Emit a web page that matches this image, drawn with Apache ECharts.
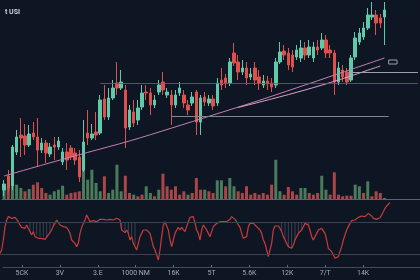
<!DOCTYPE html>
<html><head><meta charset="utf-8">
<style>html,body{margin:0;padding:0;background:#0e1624;}#c{width:420px;height:280px;}</style>
<script src="https://cdn.jsdelivr.net/npm/echarts@6/dist/echarts.min.js"></script>
</head><body><div id="c"></div>
<script>
// ---- data ----
const titleText = 't USI';
const xLabels = ['5CK','3V','3.E','1000 NM','16K','5T','5.6K','12K','7/T','14K'];
const openP  = [10,24,14,48,65,64,55,67,63,50,57,46,55,53,38,48,52,47,43,30,67,62,68,67,101,83,102,117,112,110,73,88,80,93,108,107,95,108,118,105,105,95,107,105,95,97,108,78,103,97,101,97,120,122,117,147,138,128,132,123,132,123,115,119,117,115,138,149,147,145,143,142,152,145,142,153,152,160,150,147,118,130,128,120,143,158,163,172,183,185,182,183];
const closeP = [16,12,53,63,62,55,66,63,50,57,47,53,53,59,48,40,43,40,23,58,62,66,65,100,83,102,112,112,118,72,90,77,92,107,107,95,100,115,110,108,95,105,112,97,90,103,78,102,98,101,94,117,115,117,138,137,128,132,122,126,120,117,119,116,113,138,148,145,135,133,150,152,145,153,153,150,160,147,147,118,132,123,118,142,162,167,172,185,185,177,177,190];
const lowP   = [4,8,10,45,43,45,53,60,33,47,37,43,40,50,35,30,40,35,18,28,55,60,60,65,80,80,100,105,110,52,70,73,75,90,100,85,92,105,105,102,75,92,104,92,85,94,65,65,94,94,90,94,110,112,114,134,120,125,115,120,115,110,112,110,108,112,136,140,130,128,140,138,140,142,138,145,150,142,142,105,115,118,115,118,140,155,160,170,180,165,172,155];
const highP  = [20,30,55,70,82,76,75,78,82,62,60,57,63,63,52,57,55,52,50,80,90,76,88,105,115,112,120,138,130,115,95,100,100,115,115,112,105,120,128,112,110,110,118,110,100,108,110,105,108,105,105,122,132,126,142,157,145,140,138,132,138,130,125,124,122,142,158,155,152,150,155,160,158,160,158,160,167,165,155,150,138,135,132,145,168,172,178,192,198,190,186,198];
const volume = [930,1200,1270,1430,1100,770,1000,1430,1670,1100,600,430,770,930,1330,430,600,670,770,3100,1930,2930,1600,770,2270,600,930,3430,770,2330,600,430,270,430,1270,600,270,930,2530,1270,930,1270,430,770,430,600,2100,930,930,770,600,1870,1870,1270,2100,1270,770,600,1270,430,600,430,600,430,1430,3930,770,430,1200,770,430,1100,1100,600,430,600,2330,930,430,2670,430,270,330,330,1430,1270,600,1770,270,770,600,100];
const volUp  = [1,0,1,1,1,0,1,0,0,0,0,1,1,1,1,0,0,0,0,1,1,1,1,1,0,1,1,1,1,0,0,1,0,0,1,1,0,1,0,0,0,0,0,0,1,0,0,0,1,0,0,1,1,0,1,1,0,0,0,0,0,0,0,0,0,1,1,0,0,0,0,1,1,0,0,0,1,1,0,0,0,0,0,0,1,1,0,1,0,0,0,1];
const ma1Points = [[0,24],[10,36],[20,47.6],[30,59],[40,71.8],[50,85],[60,98.2],[70,112.2],[80,126.3],[91,142]];
const ma2Points = [[56,92.5],[64,101],[72,110],[80,120],[90,134]];
const levelPrice = [117, 84, 128];
const levelFrom  = [23, 40, 83];
const levelTo    = [99, 92, 99];
const rsi = [
30.8,35.0,47.5,64.2,72.5,76.7,77.5,74.6,72.5,75.8,
74.6,70.4,66.3,63.3,65.0,62.1,66.3,64.2,57.9,53.8,
57.9,51.7,53.8,49.6,51.7,49.6,50.8,48.3,50.8,53.8,
55.8,60.0,65.0,68.3,72.5,70.4,66.3,68.3,64.2,66.3,
63.3,60.0,55.8,47.5,45.4,43.3,39.2,43.3,55.8,63.3,
68.3,72.5,78.8,74.6,70.4,68.3,71.7,73.3,70.4,72.5,
73.3,74.6,73.3,71.7,72.5,73.8,73.3,71.7,72.5,73.3,
74.6,76.7,72.5,60.0,57.9,56.7,60.0,55.8,47.5,51.7,
43.3,41.3,35.0,43.3,51.7,55.8,60.0,62.1,60.0,57.9,
55.8,47.5,39.2,35.0,28.8,22.5,35.0,51.7,66.3,70.4,
68.3,60.0,47.5,39.2,47.5,55.8,60.0,63.3,60.0,63.3,
60.8,57.9,64.2,70.4,75.8,77.5,76.7,68.3,60.0,55.8,
47.5,60.0,66.3,64.2,60.0,55.8,
51.7,57.9,64.2,66.3,68.3,69.2,70.4,68.3,70.4,68.3,
70.4,69.2,73.3,76.7,74.6,73.3,70.4,66.3,63.3,55.8,
49.6,47.5,51.7,64.2,68.3,70.4,68.3,66.3,64.2,63.3,
60.0,55.8,47.5,43.3,35.0,26.7,24.6,43.3,60.0,65.0,
65.0,65.0,62.1,57.9,51.7,47.5,43.3,39.2,39.2,37.1,
41.3,47.5,51.7,55.8,57.9,60.0,62.1,68.3,70.4,66.3,
60.0,51.7,47.5,49.6,55.8,60.0,62.1,62.1,60.8,55.8,
47.5,37.1,35.0,32.9,28.8,24.6,22.5,26.7,32.9,39.2,
47.5,53.8,60.0,64.2,68.3,71.7,73.3,72.5,74.6,75.8,
76.7,77.5,75.8,76.7,78.8,80.8,80.0,77.5,74.6,75.8,
73.3,74.6,75.4,78.8,82.9,87.1,90.0,92.1,94.2];
const rsiLevels = [70, 30];
const hatchRanges = [[18,32],[73,82],[169,186]];

// ---- build ----
const N_CAT = 100, N_RSI = 253;
const cats = Array.from({length:N_CAT}, (_,i)=>'D'+(i+1));
const rsiCats = Array.from({length:N_RSI}, (_,i)=>'R'+(i+1));
const candles = openP.map((o,i)=>[o, closeP[i], lowP[i], highP[i]]);
function sparse(points, n){ const a = new Array(n).fill(null); points.forEach(p=>{a[p[0]]=p[1];}); return a; }
const ma1 = sparse(ma1Points, openP.length);
const ma2 = sparse(ma2Points, openP.length);
const rsiData = rsi.concat(new Array(N_RSI - rsi.length).fill(null));
const hatchBase = new Array(N_RSI).fill(null), hatchVal = new Array(N_RSI).fill(null);
hatchRanges.forEach(([a,b])=>{ for(let k=a;k<=b;k+=2){ if(rsi[k]<rsiLevels[0]){ hatchBase[k]=rsi[k]; hatchVal[k]=rsiLevels[0]-rsi[k]; } } });
const GREEN='#5fc9a9', RED='#df4f4c';
const levelColors = ['rgba(175,70,70,0.8)','#7f8793','#9aa1ab'];
const volData = volume.map((v,i)=>({value:v, itemStyle:{color: volUp[i] ? '#4a7b5b' : '#a94646'}}));

const chart = echarts.init(document.getElementById('c'), null, {renderer:'canvas'});
chart.setOption({
  backgroundColor:'#0e1624',
  animation:false,
  title:{text:titleText, left:0, top:4, textStyle:{color:'#cfd4dc', fontSize:7, fontWeight:'bold', fontFamily:'Roboto'}},
  grid:[
    {left:2, right:0, top:0, height:200},
    {left:2, right:0, top:139, height:60},
    {left:0, right:0, top:198, height:80},
    {left:3, right:0, top:266, height:1}
  ],
  xAxis:[
    {type:'category', gridIndex:0, data:cats, show:false},
    {type:'category', gridIndex:1, data:cats, axisLine:{show:true, lineStyle:{color:'#5b6372', width:1}}, axisTick:{show:false}, axisLabel:{show:false}, splitLine:{show:false}},
    {type:'category', gridIndex:2, data:rsiCats, boundaryGap:false, show:false},
    {type:'category', gridIndex:3, data:xLabels.concat(['']),
      axisLine:{show:true, lineStyle:{color:'#434b59'}},
      axisTick:{show:true, inside:true, length:2, alignWithLabel:true, interval:(i,v)=>v!=='', lineStyle:{color:'#6a7280'}},
      axisLabel:{color:'#a3abb8', fontSize:7, margin:3, interval:0, fontFamily:'Roboto'}}
  ],
  yAxis:[
    {type:'value', gridIndex:0, min:0, max:200, show:false, splitLine:{show:false}},
    {type:'value', gridIndex:1, min:0, max:6000, show:false, splitLine:{show:false}},
    {type:'value', gridIndex:2, min:0, max:100, show:false, splitLine:{show:false}},
    {type:'value', gridIndex:3, show:false, splitLine:{show:false}}
  ],
  series:[
    {type:'bar', xAxisIndex:1, yAxisIndex:1, data:volData, barWidth:3, silent:true},
    {type:'candlestick', xAxisIndex:0, yAxisIndex:0, data:candles, barWidth:3, silent:true,
      itemStyle:{color:GREEN, color0:RED, borderColor:GREEN, borderColor0:RED, borderWidth:1},
      markLine:{silent:true, symbol:['none','none'], label:{show:false},
        data: levelPrice.map((p,i)=>[{coord:[levelFrom[i], p], lineStyle:{color:levelColors[i], width:1, type:'solid'}},{coord:[levelTo[i], p]}])},
      markArea:{silent:true, itemStyle:{color:'rgba(0,0,0,0)', borderColor:'#9aa1ab', borderWidth:1},
        data:[[{coord:[92,140]},{coord:[94,136]}]]}
    },
    {type:'line', xAxisIndex:0, yAxisIndex:0, data:ma1, connectNulls:true, smooth:0.3, symbol:'none', silent:true, lineStyle:{color:'#c57fb1', width:1}},
    {type:'line', xAxisIndex:0, yAxisIndex:0, data:ma2, connectNulls:true, smooth:0.3, symbol:'none', silent:true, lineStyle:{color:'#d9a3c9', width:1}},
    {type:'bar', xAxisIndex:2, yAxisIndex:2, stack:'h', data:hatchBase, barWidth:1, silent:true, itemStyle:{color:'rgba(0,0,0,0)'}},
    {type:'bar', xAxisIndex:2, yAxisIndex:2, stack:'h', data:hatchVal, barWidth:0.7, silent:true, itemStyle:{color:'rgba(150,160,175,0.32)'}},
    {type:'line', xAxisIndex:2, yAxisIndex:2, data:rsiData, symbol:'none', silent:true, lineStyle:{color:'#c93b3b', width:1.2},
      markLine:{silent:true, symbol:['none','none'], label:{show:false}, lineStyle:{color:'#3a4252', width:1, type:'solid'},
        data: rsiLevels.map(v=>({yAxis:v}))}}
  ]
});
</script></body></html>
